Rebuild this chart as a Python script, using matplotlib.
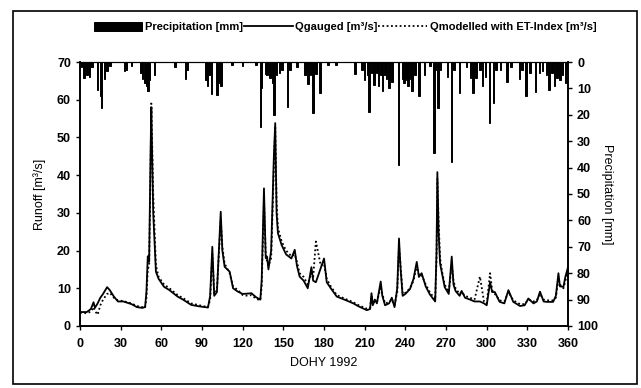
"""
Runoff hydrograph 1992: gauged vs modelled (ET-index) discharge,
with daily precipitation hanging from the top on an inverted right axis.
"""

import matplotlib
matplotlib.use("Agg")
import matplotlib.pyplot as plt
from matplotlib.patches import Rectangle

plt.rcParams["font.family"] = ["Liberation Sans", "DejaVu Sans"]
plt.rcParams["font.weight"] = "bold"

# ---- data ----
days = [0, 5, 8, 10, 11, 13, 15, 17, 20, 22, 25, 28, 32, 38, 42, 46, 48, 49, 50, 51,
        52, 52.6, 54, 56, 58, 62, 66, 72, 76, 82, 88, 94.4, 96, 97.6, 99, 101, 103.8, 105,
        106.7, 110.4, 112.9, 116.5, 120, 124, 126.4, 130, 133, 134, 135.7, 137, 138, 139,
        141, 143, 144, 145, 146, 148.7, 152, 155.9, 158.4, 160, 162, 165, 168, 170.7, 172,
        174, 177.6, 180, 182, 185, 189.4, 195, 201.6, 205, 211.5, 214, 215, 216, 217.5,
        219, 221.8, 223, 225, 228, 230, 232, 234, 235.3, 236.5, 238, 240, 243.4, 246,
        248.4, 250, 252, 255, 258, 262, 263, 263.6, 264.5, 265.6, 267, 269, 272, 274.2,
        275.5, 277, 280, 281.5, 284, 287.7, 291, 295, 298, 300, 302.5, 304, 306, 309.5,
        313, 316, 319.6, 324.6, 328, 330.7, 334.5, 337, 339.3, 342, 344.2, 349, 351,
        352.9, 354, 356.6, 358, 360.2, 362, 365]

q_gauged = [3.7, 3.7, 4.5, 6.3, 4.8, 6.0, 7.5, 8.5, 10.3, 9.5, 7.8, 6.5, 6.5, 5.8, 5.0,
            4.8, 5.0, 9.0, 18.5, 17.0, 45.0, 58.0, 30.0, 14.4, 12.5, 10.4, 9.5, 7.8, 7.0,
            5.6, 5.2, 4.9, 8.0, 21.0, 8.0, 9.0, 30.3, 20.0, 15.7, 14.4, 10.0, 9.1, 8.5,
            8.6, 8.7, 7.6, 7.0, 12.0, 36.5, 18.0, 18.4, 15.0, 20.0, 45.0, 53.8, 30.0,
            24.6, 21.5, 19.0, 17.9, 20.2, 16.0, 13.1, 12.0, 10.0, 15.6, 12.0, 11.6, 15.4,
            17.9, 11.6, 10.0, 7.8, 7.0, 6.0, 5.3, 4.2, 4.5, 8.7, 5.5, 7.0, 6.0, 11.8,
            8.0, 5.5, 6.0, 7.5, 5.0, 10.0, 23.2, 15.0, 8.0, 8.5, 9.8, 12.5, 17.0, 13.0,
            14.0, 10.5, 8.4, 6.5, 20.0, 40.8, 25.0, 16.6, 14.0, 10.3, 8.5, 18.4, 11.0,
            9.3, 8.0, 9.3, 7.5, 7.0, 6.5, 6.5, 6.0, 5.5, 11.6, 9.0, 9.0, 6.4, 6.0, 9.5,
            6.4, 5.3, 5.5, 7.3, 6.0, 6.5, 9.1, 6.5, 6.4, 6.4, 8.0, 14.0, 10.5, 10.4,
            13.0, 15.9, 12.0, 14.0]

q_modelled = [3.5, 3.4, 3.8, 5.0, 4.0, 3.0, 5.5, 7.0, 8.5, 8.8, 7.5, 6.8, 6.6, 6.0, 5.3,
              5.0, 4.8, 7.5, 15.0, 16.0, 40.0, 59.0, 35.0, 16.0, 13.0, 11.0, 10.0, 8.2,
              7.4, 6.0, 5.5, 5.0, 7.0, 19.0, 8.5, 9.5, 28.0, 21.0, 16.5, 14.0, 10.5, 9.5,
              8.2, 8.0, 8.2, 7.2, 6.8, 10.5, 33.0, 19.0, 17.0, 16.0, 18.0, 42.0, 53.0,
              33.0, 26.0, 22.5, 20.0, 18.5, 19.0, 17.0, 14.0, 13.0, 11.0, 14.0, 13.0,
              22.4, 16.0, 16.5, 12.5, 10.5, 8.2, 7.3, 6.3, 5.6, 4.6, 4.8, 8.0, 6.0, 6.5,
              6.2, 10.5, 8.5, 6.0, 6.3, 7.0, 5.5, 9.0, 21.0, 16.0, 8.5, 8.8, 10.0, 12.0,
              16.0, 13.5, 13.5, 11.0, 9.0, 7.0, 18.0, 39.0, 28.0, 18.0, 14.5, 11.0, 9.0,
              16.0, 12.0, 10.0, 8.5, 9.0, 8.0, 7.5, 7.0, 13.1, 6.5, 6.0, 14.0, 9.5, 8.5,
              6.8, 6.5, 9.0, 6.8, 5.8, 5.8, 7.0, 6.5, 6.8, 8.5, 7.0, 6.8, 6.8, 7.5, 12.5,
              11.0, 10.0, 12.0, 14.5, 12.5, 13.0]

p_days = [1, 3, 5, 7, 9, 13, 15, 16, 18, 20, 22, 33, 34, 38, 45, 46, 48, 49, 50, 51,
          55, 70, 78, 79, 93, 94, 95, 97, 101, 102, 104, 112, 120, 130, 133, 134, 137,
          138, 140, 142, 143, 145, 147, 149, 153, 155, 160, 166, 168, 170, 172, 174,
          177, 183, 189, 203, 208, 210, 212, 213, 215, 217, 219, 220, 222, 223, 225,
          226, 228, 230, 235, 238, 239, 240, 241, 242, 243, 245, 247, 250, 254, 258,
          261, 262, 264, 266, 271, 274, 276, 280, 285, 288, 290, 292, 295, 297, 299,
          302, 305, 307, 310, 315, 318, 324, 326, 329, 332, 336, 339, 341, 344, 346,
          348, 350, 352, 354, 356, 358, 360, 362]
p_mm = [2, 6.2, 4.9, 5.6, 2, 10.6, 13, 17.5, 6.6, 3.5, 1.5, 3.5, 3, 1.5, 4, 6.6, 8, 9,
        11, 7, 5, 1.8, 6.6, 3, 7, 9, 5, 12, 12.4, 8, 9, 1.1, 1.5, 1, 24.5, 10, 4.5, 5,
        6, 8, 20, 5, 4, 3, 16.9, 3, 2, 5, 8.4, 5, 19.4, 4.5, 11.9, 1, 1, 4.5, 3, 6.8,
        5, 18.8, 4, 8.7, 4, 9, 5, 11, 5, 6.6, 10, 7.7, 39, 6.6, 8, 6, 7, 9, 6.6, 11, 5,
        12.9, 5, 1.6, 34.6, 3, 17.5, 3, 5.6, 37.8, 3, 11.9, 2, 6, 11.9, 6, 3, 9, 5.5,
        23.2, 15.6, 3, 3, 7.4, 2, 6.3, 3, 13, 4, 11.2, 4.2, 3.5, 5, 10.5, 4, 9.2, 6, 7,
        5, 8, 8, 5]

x_ticks = list(range(0, 361, 30))


def main():
    fig = plt.figure(figsize=(6.41, 3.88), dpi=100)
    ax = fig.add_axes([0.1248, 0.1598, 0.7614, 0.6804])
    ax2 = ax.twinx()

    # precipitation hanging from the top
    ax2.bar(p_days, p_mm, width=1.1, color="black", edgecolor="black", linewidth=0.7,
            align="center", label="Precipitation [mm]")
    ax2.set_ylim(100, 0)
    ax2.set_yticks(range(0, 101, 10))
    ax2.set_ylabel("Precipitation [mm]", rotation=270, labelpad=11, fontsize=9)

    # discharge
    ax.plot(days, q_gauged, color="black", lw=1.3, label="Qgauged [m³/s]")
    ax.plot(days, q_modelled, color="black", lw=1.3, ls=(0, (1, 1.4)),
            label="Qmodelled with ET-Index [m³/s]")
    ax.set_xlim(0, 360)
    ax.set_ylim(0, 70)
    ax.set_xticks(x_ticks)
    ax.set_yticks(range(0, 71, 10))
    ax.set_xlabel("DOHY 1992", fontsize=9, labelpad=5)
    ax.set_ylabel("Runoff [m³/s]", fontsize=9, labelpad=8)

    for a in (ax, ax2):
        a.tick_params(labelsize=9, direction="out", length=3, width=1)
        for s in a.spines.values():
            s.set_linewidth(1.2)
    ax.tick_params(axis="x", pad=6)
    ax.spines["top"].set_linewidth(0.8)
    ax2.spines["top"].set_linewidth(0.8)

    h1, l1 = ax2.get_legend_handles_labels()
    h2, l2 = ax.get_legend_handles_labels()
    fig.legend(h1 + h2, l1 + l2, loc="center", bbox_to_anchor=(0.538, 0.93), ncol=3,
               frameon=False, fontsize=8, handlelength=4.4, handletextpad=0.2,
               columnspacing=0.1, handleheight=0.9)

    # outer frame around the whole figure
    fig.patches.append(Rectangle((13 / 641, 4 / 388), 624 / 641, 373 / 388,
                                 transform=fig.transFigure, fill=False,
                                 edgecolor="black", lw=1.2))

    fig.savefig("out.png", dpi=100)
    plt.close(fig)


if __name__ == "__main__":
    main()
